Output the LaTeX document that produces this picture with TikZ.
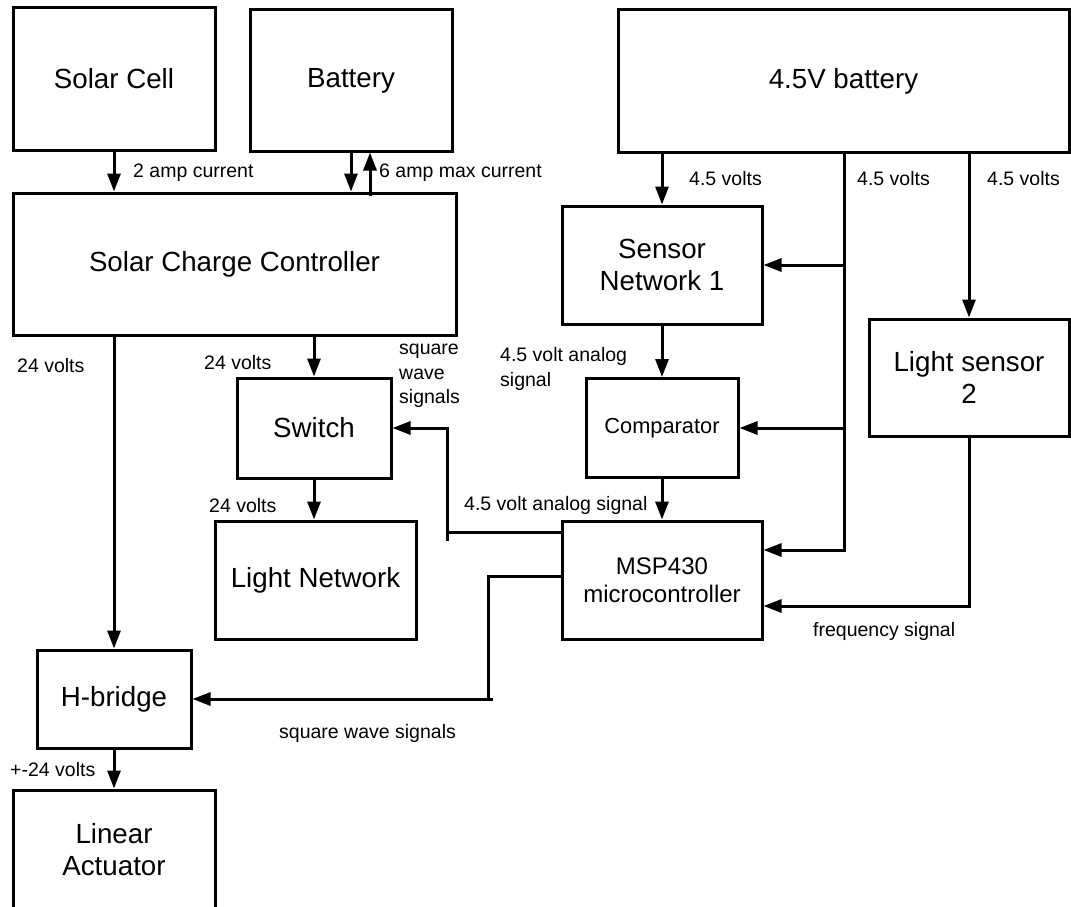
\documentclass[tikz,border=0pt]{standalone}
\usepackage{fontspec}
\setmainfont{Liberation Sans}
\usetikzlibrary{arrows.meta}

\tikzset{
  block/.style={draw, line width=3pt, inner sep=0pt, align=center, font=\fontsize{27.7}{32}\selectfont},
  wire/.style={line width=3pt},
  arr/.style={wire, -{Triangle[length=18pt,width=13pt]}},
  lbl/.style={anchor=west, inner sep=0pt, align=left, font=\fontsize{19.5}{24.5}\selectfont},
}

\begin{document}
\begin{tikzpicture}[x=1pt, y=-1pt]
    \useasboundingbox (0,0) rectangle (1071,907);
    \clip (0,0) rectangle (1071,907);

    % Power side
    \node[block, minimum width=202, minimum height=142] (solar) at (114,79) {Solar Cell};
    \node[block, minimum width=202, minimum height=141] (battery) at (351,80.5) {Battery};
    \node[block, minimum width=443, minimum height=142] (scc) at (234.5,264) {Solar Charge Controller};
    \node[block, minimum width=154, minimum height=100] (switch) at (314,428) {Switch};
    \node[block, minimum width=201, minimum height=118] (lightnet) at (315.5,580) {Light Network};
    \node[block, minimum width=154, minimum height=98] (hbridge) at (114,699) {H-bridge};
    \node[block, minimum width=202, minimum height=120] (actuator) at (114,850) {Linear\\Actuator};

    % Sensor side
    \node[block, minimum width=451, minimum height=142] (batt45) at (843.5,81) {4.5V battery};
    \node[block, minimum width=200, minimum height=118] (sn1) at (662,265) {Sensor\\Network 1};
    \node[block, minimum width=200, minimum height=117] (ls2) at (969,377.5) {Light sensor\\2};
    \node[block, minimum width=152, minimum height=99, font=\fontsize{21.8}{26}\selectfont] (comp) at (662,428) {Comparator};
    \node[block, minimum width=200, minimum height=118, font=\fontsize{24}{28}\selectfont] (msp) at (662,580) {MSP430\\microcontroller};

    % Helper points for the bent wires
    \coordinate (bup) at ([xshift=19pt]battery.south);
    \coordinate (bupfoot) at ([yshift=-4pt]bup |- scc.north);
    \coordinate (swout) at ([yshift=-13pt]msp.north west);
    \coordinate (hbout) at ([yshift=-57pt]msp.north west);
    \coordinate (swbend) at (447,428);
    \coordinate (swstub) at (447,541);
    \coordinate (hbbend) at (488,699);
    \coordinate (hbstub) at (493,699);
    \coordinate (bus) at (844,550);

    % Power wiring
    \draw[arr] (solar.south) -- (solar.south |- scc.north);
    \draw[arr] (battery.south) -- (battery.south |- scc.north);
    \draw[arr] (bupfoot) -- (bup);
    \draw[arr] (scc.south -| hbridge.north) -- (hbridge.north);
    \draw[arr] (scc.south -| switch.north) -- (switch.north);
    \draw[arr] (switch.south) -- (switch.south |- lightnet.north);
    \draw[arr] (hbridge.south) -- (actuator.north);

    % Sensor wiring
    \draw[arr] (batt45.south -| sn1.north) -- (sn1.north);
    \draw[arr] (batt45.south -| ls2.north) -- (ls2.north);
    \draw[arr] (bus |- batt45.south) -- (bus) -- (bus -| msp.east);
    \draw[arr] (bus |- sn1.east) -- (sn1.east);
    \draw[arr] (bus |- comp.east) -- (comp.east);
    \draw[arr] (sn1.south) -- (comp.north);
    \draw[arr] (comp.south) -- (msp.north);
    \draw[arr] (ls2.south) |- ([yshift=-26pt]msp.east);

    % Control signals out of the MSP430
    \draw[arr] (swout) -| (swbend) -- (switch.east);
    \draw[wire] (swbend |- swout) -- (swstub);
    \draw[arr] (hbout) -| (hbbend) -- (hbridge.east);
    \draw[wire] (hbbend) -- (hbstub);

    % Labels
    \node[lbl] (l2amp) at (133,173) {2 amp current};
    \node[lbl] (l6amp) at (379,173) {6 amp max current};
    \node[lbl] (l45a) at (689,179) {4.5 volts};
    \node[lbl] (l45b) at (857,179) {4.5 volts};
    \node[lbl] (l45c) at (987,179) {4.5 volts};
    \node[lbl] (l24a) at (17,366) {24 volts};
    \node[lbl] (l24b) at (204,363) {24 volts};
    \node[lbl] (lsq1) at (399,376) {square\\wave\\signals};
    \node[lbl] (lana1) at (500,369) {4.5 volt analog\\signal};
    \node[lbl] (l24c) at (209,506) {24 volts};
    \node[lbl] (lana2) at (464,505) {4.5 volt analog signal};
    \node[lbl] (lfreq) at (813,631) {frequency signal};
    \node[lbl] (lsq2) at (279,733) {square wave signals};
    \node[lbl] (l24d) at (10,770) {+-24 volts};
\end{tikzpicture}
\end{document}
